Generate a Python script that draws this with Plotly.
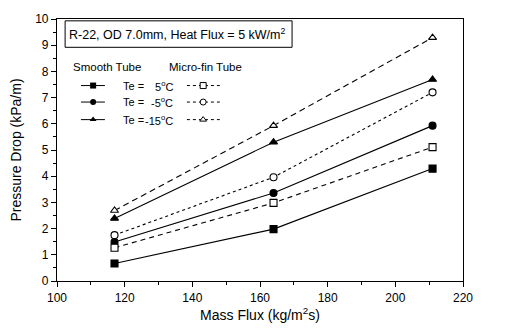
import plotly.graph_objects as go

mass_flux = [117, 164, 211]
smooth_5 = [0.67, 1.98, 4.29]
smooth_m5 = [1.49, 3.36, 5.93]
smooth_m15 = [2.39, 5.30, 7.69]
micro_5 = [1.27, 2.98, 5.11]
micro_m5 = [1.75, 3.96, 7.20]
micro_m15 = [2.69, 5.93, 9.29]
te_values = ["5", "-5", "-15"]

FONT = "Liberation Sans, Arial, sans-serif"
fig = go.Figure()

series = [
    (smooth_5, "square", "solid", "black"),
    (smooth_m5, "circle", "solid", "black"),
    (smooth_m15, "triangle-up", "solid", "black"),
    (micro_5, "square", "5px,4px", "white"),
    (micro_m5, "circle", "dot", "white"),
    (micro_m15, "triangle-up", "6px,4px", "white"),
]
for ys, sym, dash, fill in series:
    fig.add_trace(go.Scatter(
        x=mass_flux, y=ys, mode="lines+markers",
        line=dict(color="black", width=1.1, dash=dash),
        marker=dict(symbol=sym, size=7, color=fill, line=dict(color="black", width=1.1)),
        showlegend=False, cliponaxis=False))

# legend glyphs on a hidden overlay axis
rows = [0.746, 0.683, 0.616]
for i, r in enumerate(rows):
    sym_s = series[i][1]
    sym_m, dash_m = series[3 + i][1], series[3 + i][2]
    fig.add_trace(go.Scatter(x=[0.059, 0.089, 0.118], y=[r, r, r], xaxis="x2", yaxis="y2",
                             mode="lines", line=dict(color="black", width=1), showlegend=False,
                             hoverinfo="skip"))
    fig.add_trace(go.Scatter(x=[0.089], y=[r], xaxis="x2", yaxis="y2", mode="markers",
                             marker=dict(symbol=sym_s, size=6, color="black"), showlegend=False,
                             hoverinfo="skip"))
    fig.add_trace(go.Scatter(x=[0.32, 0.401], y=[r, r], xaxis="x2", yaxis="y2",
                             mode="lines", line=dict(color="black", width=1,
                                                     dash="dot" if dash_m == "dot" else "3px,3px"),
                             showlegend=False, hoverinfo="skip"))
    fig.add_trace(go.Scatter(x=[0.36], y=[r], xaxis="x2", yaxis="y2", mode="markers",
                             marker=dict(symbol=sym_m, size=6, color="white",
                                         line=dict(color="black", width=1)), showlegend=False,
                             hoverinfo="skip"))
    fig.add_annotation(x=0.158, y=r, xref="x2", yref="y2", text="Te =",
                       showarrow=False, xanchor="left", yanchor="middle",
                       font=dict(family=FONT, size=11, color="black"))
    fig.add_annotation(x=0.291, y=r, xref="x2", yref="y2", text=te_values[i] + "<sup>o</sup>C",
                       showarrow=False, xanchor="right", yanchor="middle",
                       font=dict(family=FONT, size=11, color="black"))

fig.add_annotation(x=0.034, y=0.817, xref="x2", yref="y2", text="Smooth Tube", showarrow=False,
                   xanchor="left", yanchor="middle", font=dict(family=FONT, size=11.5, color="black"))
fig.add_annotation(x=0.271, y=0.817, xref="x2", yref="y2", text="Micro-fin Tube", showarrow=False,
                   xanchor="left", yanchor="middle", font=dict(family=FONT, size=11.5, color="black"))
fig.add_annotation(x=0.025, y=0.942, xref="x2", yref="y2", text="R-22, OD 7.0mm, Heat Flux = 5 kW/m<sup>2</sup>",
                   showarrow=False, xanchor="left", yanchor="middle",
                   font=dict(family=FONT, size=12.5, color="black"))
fig.add_shape(type="rect", xref="x2", yref="y2", x0=0.02, x1=0.579, y0=0.892, y1=0.993,
              line=dict(color="black", width=1))

axis_common = dict(showgrid=False, zeroline=False, showline=True, linecolor="black", linewidth=1.2,
                   mirror=True, ticks="outside", ticklen=5, tickcolor="black",
                   tickfont=dict(family=FONT, size=12, color="black"))
fig.update_layout(
    width=519, height=336, margin=dict(l=57, r=56, t=13, b=55),
    plot_bgcolor="white", paper_bgcolor="white",
    xaxis=dict(range=[100, 220], dtick=20, title=dict(text="Mass Flux (kg/m<sup>2</sup>s)", standoff=6,
               font=dict(family=FONT, size=14, color="black")),
               minor=dict(dtick=10, ticks="outside", ticklen=3, tickcolor="black"), **axis_common),
    yaxis=dict(range=[0, 10], dtick=1, title=dict(text="Pressure Drop (kPa/m)", standoff=10,
               font=dict(family=FONT, size=14, color="black")),
               minor=dict(dtick=0.5, ticks="outside", ticklen=3, tickcolor="black"), **axis_common),
    xaxis2=dict(range=[0, 1], overlaying="x", visible=False),
    yaxis2=dict(range=[0, 1], overlaying="y", visible=False),
)
fig.write_html("out.html")
